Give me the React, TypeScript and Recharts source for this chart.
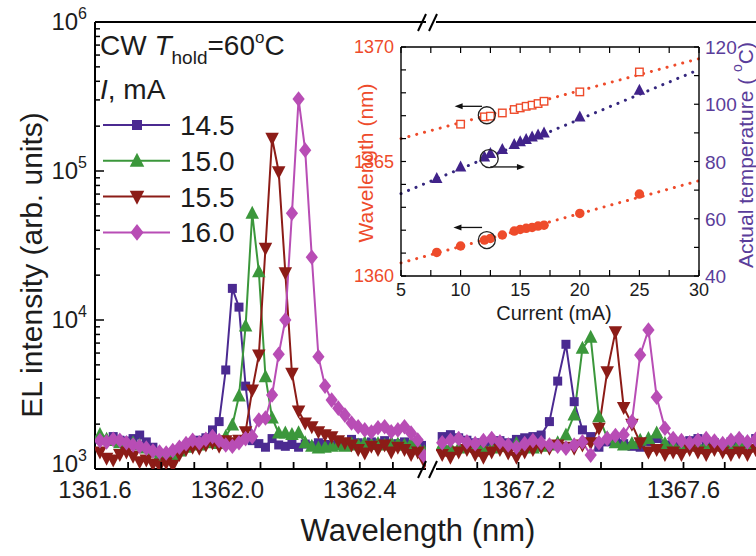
import React from 'react';
import {
  LineChart, Line, XAxis, YAxis, Legend, ComposedChart, Scatter, ReferenceLine, ReferenceDot,
} from 'recharts';

const FONT = '"Liberation Sans", Arial, Helvetica, sans-serif';
const INK = '#1c1c1c';

// ---------- main spectra: wavelength grids (nm) ----------
const wlLeft = [
  1361.615, 1361.635, 1361.655, 1361.675, 1361.695, 1361.715, 1361.735, 1361.755, 1361.775, 1361.795,
  1361.815, 1361.835, 1361.855, 1361.875, 1361.895, 1361.915, 1361.935, 1361.955, 1361.975, 1361.995,
  1362.015, 1362.035, 1362.055, 1362.075, 1362.095, 1362.115, 1362.135, 1362.155, 1362.175, 1362.195,
  1362.215, 1362.235, 1362.255, 1362.275, 1362.295, 1362.315, 1362.335, 1362.355, 1362.375, 1362.395,
  1362.415, 1362.435, 1362.455, 1362.475, 1362.495, 1362.515, 1362.535, 1362.555, 1362.575, 1362.595,
];
const wlRight = [
  1367.015, 1367.035, 1367.055, 1367.075, 1367.095, 1367.115, 1367.135, 1367.155, 1367.175, 1367.195,
  1367.215, 1367.235, 1367.255, 1367.275, 1367.295, 1367.315, 1367.335, 1367.355, 1367.375, 1367.395,
  1367.415, 1367.435, 1367.455, 1367.475, 1367.495, 1367.515, 1367.535, 1367.555, 1367.575, 1367.595,
  1367.615, 1367.635, 1367.655, 1367.675, 1367.695, 1367.715, 1367.735, 1367.755, 1367.775,
];

// EL intensity (arb. units), left segment
const i145L = [1580, 1550, 1650, 1560, 1540, 1600, 1690, 1520, 1400, 1270, 1200, 1260, 1330, 1400, 1500, 1560, 1620, 1830, 2080, 4620,
  16300, 12200, 3600, 1550, 1480, 1400, 1600, 1450, 1420, 1460, 1400, 1470, 1430, 1500, 1460, 1450, 1520, 1480, 1580, 1500,
  1460, 1520, 1490, 1550, 1460, 1480, 1520, 1460, 1500, 1440];
const i150L = [1700, 1580, 1550, 1500, 1480, 1500, 1450, 1380, 1300, 1230, 1180, 1250, 1320, 1400, 1480, 1450, 1500, 1520, 1480, 1650,
  1970, 3090, 9100, 52000, 21100, 4160, 2200, 1740, 1740, 1700, 1750, 1500, 1420, 1380, 1400, 1420, 1450, 1420, 1480, 1450,
  1500, 1460, 1480, 1450, 1500, 1470, 1440, 1480, 1420, 1300];
const i155L = [1300, 1180, 1150, 1250, 1300, 1220, 1120, 1150, 1080, 1050, 1100, 1060, 1250, 1350, 1400, 1380, 1450, 1500, 1420, 1550,
  1500, 1560, 1780, 3390, 5820, 30300, 165800, 98900, 20800, 4390, 2450, 2035, 1920, 1780, 1700, 1650, 1550, 1500, 1450, 1350,
  1280, 1420, 1350, 1450, 1300, 1400, 1350, 1250, 1300, 1120];
const i160L = [1550, 1520, 1580, 1560, 1500, 1450, 1420, 1380, 1320, 1300, 1280, 1330, 1400, 1480, 1560, 1500, 1580, 1650, 1550, 1450,
  1420, 1500, 1600, 1650, 2130, 2200, 3140, 5890, 10000, 52000, 304000, 138000, 26400, 5670, 3600, 2900, 2560, 2300, 2035, 1920,
  1830, 1770, 1890, 1920, 1780, 1830, 1920, 1740, 1565, 1220];

// EL intensity (arb. units), right segment
const i145R = [1650, 1700, 1620, 1560, 1500, 1480, 1520, 1550, 1500, 1580, 1620, 1650, 1690, 2080, 3890, 6870, 2830, 1830, 1650, 1400,
  1520, 1600, 1480, 1420, 1400, 1520, 1600, 1450, 1480, 1420, 1550, 1600, 1480, 1500, 1450, 1520, 1560, 1480, 1600];
const i150R = [1450, 1400, 1380, 1420, 1450, 1400, 1380, 1420, 1450, 1480, 1400, 1380, 1420, 1450, 1500, 1690, 2300, 6460, 7650, 2245,
  1620, 1500, 1450, 1480, 1560, 1600, 1740, 1480, 1450, 1420, 1480, 1450, 1430, 1500, 1450, 1420, 1480, 1450, 1420];
const i155R = [1250, 1200, 1300, 1350, 1250, 1200, 1300, 1350, 1280, 1200, 1300, 1350, 1400, 1380, 1450, 1400, 1380, 1450, 1500, 1880,
  4500, 8350, 2590, 2000, 1500, 1300, 1350, 1250, 1300, 1250, 1350, 1300, 1250, 1350, 1300, 1250, 1300, 1250, 1350];
const i160R = [1500, 1560, 1600, 1520, 1480, 1550, 1600, 1520, 1450, 1400, 1480, 1550, 1500, 1450, 1420, 1380, 1450, 1520, 1240, 1500,
  1600, 1680, 1700, 2080, 5820, 8570, 3030, 1875, 1600, 1550, 1500, 1560, 1600, 1540, 1480, 1560, 1600, 1520, 1580];

const leftTicks = [1361.6, 1361.7, 1361.8, 1361.9, 1362.0, 1362.1, 1362.2, 1362.3, 1362.4, 1362.5];
const leftLabels = [1361.6, 1362.0, 1362.4];
const rightTicks = [1367.1, 1367.2, 1367.3, 1367.4, 1367.5, 1367.6, 1367.7];
const rightLabels = [1367.2, 1367.6];
const yTicks = [
  1000, 2000, 3000, 4000, 5000, 6000, 7000, 8000, 9000,
  10000, 20000, 30000, 40000, 50000, 60000, 70000, 80000, 90000,
  100000, 200000, 300000, 400000, 500000, 600000, 700000, 800000, 900000, 1000000,
];

// ---------- inset ----------
const curSq = [10, 12, 12.5, 13.5, 14.5, 15, 15.5, 16, 16.5, 17, 20, 25];
const wlSq = [1366.63, 1366.95, 1366.98, 1367.12, 1367.27, 1367.34, 1367.41, 1367.46, 1367.53, 1367.63, 1368.04, 1368.91];
const curCirc = [8, 10, 12, 12.5, 13.5, 14.5, 15, 15.5, 16, 16.5, 17, 20, 25];
const wlCirc = [1361.03, 1361.31, 1361.57, 1361.64, 1361.79, 1361.96, 1362.03, 1362.08, 1362.12, 1362.18, 1362.22, 1362.73, 1363.58];
const curTri = [8, 10, 12, 12.5, 13.5, 14.5, 15, 15.5, 16, 16.5, 17, 20, 25];
const tempTri = [74.1, 78.1, 81.6, 82.8, 84.2, 86.0, 86.9, 87.7, 88.6, 89.3, 90.0, 95.6, 104.9];
const fitX = [5, 30];
const fitSq = [1366.0, 1369.49];
const fitTri = [68.8, 112.1];
const fitCirc = [1360.57, 1364.16];
const insetXTicks = [5, 7.5, 10, 12.5, 15, 17.5, 20, 22.5, 25, 27.5, 30];
const insetXLabels = [5, 10, 15, 20, 25, 30];
const insetWlTicks = [1360, 1361, 1362, 1363, 1364, 1365, 1366, 1367, 1368, 1369, 1370];
const insetWlLabels = [1360, 1365, 1370];
const insetTTicks = [40, 50, 60, 70, 80, 90, 100, 110, 120];
const insetTLabels = [40, 60, 80, 100, 120];

const C145 = '#4b2a91';
const C150 = '#3b973b';
const C155 = '#8c1c17';
const C160 = '#b84db5';
const RED = '#ee4b2b';
const PURPLE = '#41238a';
const PURPLE_T = '#5a3d9a';

const SERIES = [
  { key: 's145', name: '14.5', color: C145, shape: 'square' },
  { key: 's150', name: '15.0', color: C150, shape: 'up' },
  { key: 's155', name: '15.5', color: C155, shape: 'down' },
  { key: 's160', name: '16.0', color: C160, shape: 'diamond' },
];

const leftTable = wlLeft.map((wl, i) => ({ wl, s145: i145L[i], s150: i150L[i], s155: i155L[i], s160: i160L[i] }));
const rightTable = wlRight.map((wl, i) => ({ wl, s145: i145R[i], s150: i150R[i], s155: i155R[i], s160: i160R[i] }));
const sqData = curSq.map((x, i) => ({ x, y: wlSq[i] }));
const circData = curCirc.map((x, i) => ({ x, y: wlCirc[i] }));
const triData = curTri.map((x, i) => ({ x, y: tempTri[i] }));

function Marker({ shape, cx, cy, color, s, open }: any) {
  const fill = open ? '#fff' : color;
  const stroke = open ? color : 'none';
  switch (shape) {
    case 'square':
      return <rect x={cx - s / 2} y={cy - s / 2} width={s} height={s} fill={fill} stroke={stroke} strokeWidth={1.4} />;
    case 'up':
      return <polygon points={`${cx},${cy - 0.58 * s} ${cx + 0.52 * s},${cy + 0.42 * s} ${cx - 0.52 * s},${cy + 0.42 * s}`} fill={fill} />;
    case 'down':
      return <polygon points={`${cx},${cy + 0.58 * s} ${cx + 0.52 * s},${cy - 0.42 * s} ${cx - 0.52 * s},${cy - 0.42 * s}`} fill={fill} />;
    case 'diamond':
      return <polygon points={`${cx},${cy - 0.6 * s} ${cx + 0.47 * s},${cy} ${cx},${cy + 0.6 * s} ${cx - 0.47 * s},${cy}`} fill={fill} />;
    default:
      return <circle cx={cx} cy={cy} r={s / 2} fill={fill} />;
  }
}

const makeDot = (shape: string, color: string, s: number) => (p: any) => {
  const { cx, cy, index } = p;
  if (cx == null || cy == null || Number.isNaN(cx) || Number.isNaN(cy)) return <g key={`n${index}`} />;
  return <Marker key={`m${index}`} shape={shape} cx={cx} cy={cy} color={color} s={s} />;
};

const near = (arr: number[], v: number) => arr.some((a) => Math.abs(a - v) < 1e-6);

function XTickMain(props: any) {
  const { x, y, payload, labeled } = props;
  const v = payload.value;
  return (
    <g>
      <line x1={x} x2={x} y1={y} y2={y - 7} stroke="#000" strokeWidth={1.8} />
      {near(labeled, v) && (
        <text x={x} y={y + 29} textAnchor="middle" fontSize={24} fill={INK} fontFamily={FONT}>{v.toFixed(1)}</text>
      )}
    </g>
  );
}

function YTickMain(props: any) {
  const { x, y, payload } = props;
  const v = payload.value;
  const lg = Math.log10(v);
  const e = Math.round(lg);
  const major = Math.abs(lg - e) < 1e-6;
  const dy = e === 3 ? 3 : 8;
  return (
    <g>
      <line x1={x} x2={x + (major ? 9 : 5)} y1={y} y2={y} stroke="#000" strokeWidth={1.5} />
      {major && (
        <text x={x - 8} y={y + dy} textAnchor="end" fontSize={24} fill={INK} fontFamily={FONT}>
          10<tspan dy={-11} fontSize={16}>{e}</tspan>
        </text>
      )}
    </g>
  );
}

function InsetBottomTick(props: any) {
  const { x, y, payload } = props;
  const v = payload.value;
  return (
    <g>
      <line x1={x} x2={x} y1={y} y2={y - 6} stroke="#000" strokeWidth={1.2} />
      {near(insetXLabels, v) && (
        <text x={x} y={y + 20} textAnchor="middle" fontSize={18} fill={INK} fontFamily={FONT}>{v}</text>
      )}
    </g>
  );
}

function InsetTopTick(props: any) {
  const { x, y } = props;
  return <line x1={x} x2={x} y1={y} y2={y + 6} stroke="#000" strokeWidth={1.2} />;
}

function InsetLeftTick(props: any) {
  const { x, y, payload } = props;
  const v = payload.value;
  return (
    <g>
      <line x1={x} x2={x + 5} y1={y} y2={y} stroke="#000" strokeWidth={1.2} />
      {near(insetWlLabels, v) && (
        <text x={x - 7} y={y + 6} textAnchor="end" fontSize={18} fill={RED} fontFamily={FONT}>{v}</text>
      )}
    </g>
  );
}

function InsetRightTick(props: any) {
  const { x, y, payload } = props;
  const v = payload.value;
  return (
    <g>
      <line x1={x} x2={x - 5} y1={y} y2={y} stroke="#000" strokeWidth={1.2} />
      {near(insetTLabels, v) && (
        <text x={x + 6} y={y + 7} textAnchor="start" fontSize={19} fill={PURPLE_T} fontFamily={FONT}>{v}</text>
      )}
    </g>
  );
}

function Arrow(p: any) {
  const { x1, y1, x2, y2 } = p;
  if ([x1, y1, x2, y2].some((v) => v == null || Number.isNaN(v))) return <g />;
  const dir = x2 > x1 ? 1 : -1;
  return (
    <g>
      <line x1={x1} y1={y1} x2={x2 - dir * 6} y2={y2} stroke="#111" strokeWidth={1.3} />
      <polygon points={`${x2},${y2} ${x2 - dir * 8},${y2 - 3} ${x2 - dir * 8},${y2 + 3}`} fill="#111" />
    </g>
  );
}

function MainLegend(props: any) {
  const { payload = [] } = props;
  return (
    <svg width={260} height={240} style={{ overflow: 'visible', display: 'block' }}>
      <text x={2} y={33} fontSize={28} fill={INK} fontFamily={FONT}>
        CW <tspan fontStyle="italic">T</tspan>
        <tspan fontSize={19} dy={9}>hold</tspan>
        <tspan dy={-9}>=60</tspan>
        <tspan fontSize={17} dy={-12}>o</tspan>
        <tspan dy={12}>C</tspan>
      </text>
      <text x={2} y={77} fontSize={28} fill={INK} fontFamily={FONT}>
        <tspan fontStyle="italic">I</tspan>, mA
      </text>
      {payload.map((entry: any, i: number) => {
        const s = SERIES.find((q) => q.key === entry.dataKey) || SERIES[i];
        const cy = 103 + i * 35.8;
        return (
          <g key={s.key}>
            <line x1={5} x2={72} y1={cy} y2={cy} stroke={s.color} strokeWidth={2} />
            <Marker shape={s.shape} cx={39} cy={cy} color={s.color} s={s.shape === 'square' ? 10 : 14} />
            <text x={82} y={cy + 10} fontSize={28} fill={INK} fontFamily={FONT}>{entry.value}</text>
          </g>
        );
      })}
    </svg>
  );
}

const mainYLabel = () => (
  <text x={0} y={0} transform="translate(31,265) rotate(-90)" textAnchor="middle" dominantBaseline="central"
    fontSize={30} fill={INK} fontFamily={FONT}>EL intensity (arb. units)</text>
);

const insetWlLabel = () => (
  <text x={0} y={0} transform="translate(35,143) rotate(-90)" textAnchor="middle" dominantBaseline="central"
    fontSize={21} fill={RED} fontFamily={FONT}>Wavelength (nm)</text>
);

const insetTLabel = () => (
  <text x={0} y={0} transform="translate(415,135) rotate(-90)" textAnchor="middle" dominantBaseline="central"
    fontSize={21} fill={PURPLE_T} fontFamily={FONT}>
    Actual temperature ( <tspan fontSize={14} dy={-8}>o</tspan><tspan dy={8}>C)</tspan>
  </text>
);

const insetXLabel = () => (
  <text x={224} y={300} textAnchor="middle" fontSize={20} fill={INK} fontFamily={FONT}>Current (mA)</text>
);

const axisLine = { stroke: '#000', strokeWidth: 2 };

function Spectra({ data, ticks, labeled, domain, width, withY, withLegend }: any) {
  return (
    <LineChart width={width} height={556} data={data} margin={{ top: 21, right: 0, bottom: 27, left: 0 }}>
      <XAxis dataKey="wl" type="number" domain={domain} allowDataOverflow ticks={ticks} interval={0}
        tick={<XTickMain labeled={labeled} />} tickLine={false} tickSize={0} tickMargin={0} height={60} axisLine={axisLine} />
      <XAxis xAxisId="top" orientation="top" dataKey="wl" type="number" domain={domain} allowDataOverflow
        tick={false} tickLine={false} height={1} axisLine={axisLine} />
      {withY ? (
        <YAxis type="number" scale="log" domain={[1000, 1000000]} allowDataOverflow ticks={yTicks} interval={0}
          tick={<YTickMain />} tickLine={false} tickSize={0} tickMargin={0} width={95} axisLine={axisLine}
          label={mainYLabel} />
      ) : (
        <YAxis type="number" scale="log" domain={[1000, 1000000]} allowDataOverflow hide width={0} />
      )}
      {withLegend && (
        <Legend layout="vertical" align="center" verticalAlign="middle" content={<MainLegend />}
          wrapperStyle={{ left: 98, top: 22, width: 260, height: 240 }} />
      )}
      {SERIES.map((s) => (
        <Line key={s.key} dataKey={s.key} name={s.name} stroke={s.color} strokeWidth={2}
          dot={makeDot(s.shape, s.color, s.shape === 'square' ? 9 : 13)} activeDot={false}
          isAnimationActive={false} />
      ))}
    </LineChart>
  );
}

function Inset() {
  return (
    <ComposedChart width={426} height={310} margin={{ top: 26, right: 0, bottom: 14, left: 0 }}>
      <XAxis xAxisId="b" dataKey="x" type="number" domain={[5, 30]} allowDataOverflow ticks={insetXTicks} interval={0}
        tick={<InsetBottomTick />} tickLine={false} tickSize={0} tickMargin={0} height={40}
        axisLine={{ stroke: '#000', strokeWidth: 1.4 }} label={insetXLabel} />
      <XAxis xAxisId="t" orientation="top" dataKey="x" type="number" domain={[5, 30]} allowDataOverflow ticks={insetXTicks}
        interval={0} tick={<InsetTopTick />} tickLine={false} tickSize={0} tickMargin={0} height={1}
        axisLine={{ stroke: '#000', strokeWidth: 1.4 }} />
      <YAxis yAxisId="wl" dataKey="y" type="number" domain={[1360, 1370]} allowDataOverflow ticks={insetWlTicks}
        interval={0} tick={<InsetLeftTick />} tickLine={false} tickSize={0} tickMargin={0} width={71}
        axisLine={{ stroke: '#000', strokeWidth: 1.4 }} label={insetWlLabel} />
      <YAxis yAxisId="T" orientation="right" dataKey="y" type="number" domain={[40, 120]} allowDataOverflow
        ticks={insetTTicks} interval={0} tick={<InsetRightTick />} tickLine={false} tickSize={0} tickMargin={0}
        width={57} axisLine={{ stroke: '#000', strokeWidth: 1.4 }} label={insetTLabel} />

      <ReferenceLine xAxisId="b" yAxisId="wl" segment={[{ x: fitX[0], y: fitSq[0] }, { x: fitX[1], y: fitSq[1] }]}
        stroke={RED} strokeWidth={3} strokeDasharray="0.1 8" strokeLinecap="round" ifOverflow="visible" />
      <ReferenceLine xAxisId="b" yAxisId="T" segment={[{ x: fitX[0], y: fitTri[0] }, { x: fitX[1], y: fitTri[1] }]}
        stroke="#35277e" strokeWidth={3} strokeDasharray="0.1 8" strokeLinecap="round" ifOverflow="visible" />
      <ReferenceLine xAxisId="b" yAxisId="wl" segment={[{ x: fitX[0], y: fitCirc[0] }, { x: fitX[1], y: fitCirc[1] }]}
        stroke={RED} strokeWidth={3} strokeDasharray="0.1 8" strokeLinecap="round" ifOverflow="visible" />

      <Scatter xAxisId="b" yAxisId="wl" data={sqData} isAnimationActive={false}
        shape={(p: any) => <Marker shape="square" cx={p.cx} cy={p.cy} color={RED} s={7.5} open />} />
      <Scatter xAxisId="b" yAxisId="T" data={triData} isAnimationActive={false}
        shape={(p: any) => <Marker shape="up" cx={p.cx} cy={p.cy} color={PURPLE} s={11} />} />
      <Scatter xAxisId="b" yAxisId="wl" data={circData} isAnimationActive={false}
        shape={(p: any) => <Marker shape="circle" cx={p.cx} cy={p.cy} color={RED} s={9.5} />} />

      <ReferenceDot xAxisId="b" yAxisId="wl" x={12.2} y={1367.02} r={8.5} fill="none" stroke="#222" strokeWidth={1.3} />
      <ReferenceDot xAxisId="b" yAxisId="T" x={12.4} y={81.0} r={9} fill="none" stroke="#222" strokeWidth={1.3} />
      <ReferenceDot xAxisId="b" yAxisId="wl" x={12.2} y={1361.57} r={8.5} fill="none" stroke="#222" strokeWidth={1.3} />
      <ReferenceLine xAxisId="b" yAxisId="wl" segment={[{ x: 11.8, y: 1367.41 }, { x: 9.5, y: 1367.41 }]}
        ifOverflow="visible" shape={(p: any) => <Arrow {...p} />} />
      <ReferenceLine xAxisId="b" yAxisId="T" segment={[{ x: 12.5, y: 78.1 }, { x: 15.4, y: 78.1 }]}
        ifOverflow="visible" shape={(p: any) => <Arrow {...p} />} />
      <ReferenceLine xAxisId="b" yAxisId="wl" segment={[{ x: 11.8, y: 1362.12 }, { x: 9.4, y: 1362.12 }]}
        ifOverflow="visible" shape={(p: any) => <Arrow {...p} />} />
    </ComposedChart>
  );
}

export default function App() {
  return (
    <div style={{ position: 'absolute', left: 0, top: 0, width: 756, height: 556, overflow: 'hidden', background: '#fff', fontFamily: FONT }}>
      <div style={{ position: 'absolute', left: 0, top: 0 }}>
        <Spectra data={leftTable} ticks={leftTicks} labeled={leftLabels} domain={[1361.6, 1362.6]} width={426} withY withLegend />
      </div>
      <div style={{ position: 'absolute', left: 436, top: 0 }}>
        <Spectra data={rightTable} ticks={rightTicks} labeled={rightLabels} domain={[1367.0, 1367.8]} width={330} />
      </div>
      <div style={{ position: 'absolute', left: 330, top: 20 }}>
        <Inset />
      </div>
      <svg width={756} height={556} style={{ position: 'absolute', left: 0, top: 0, pointerEvents: 'none' }}>
        <g stroke="#000" strokeWidth={2}>
          <line x1={418} y1={31} x2={426} y2={14} />
          <line x1={429} y1={31} x2={437} y2={14} />
          <line x1={418} y1={478} x2={426} y2={461} />
          <line x1={429} y1={478} x2={437} y2={461} />
        </g>
        <text x={418} y={541} textAnchor="middle" fontSize={31} fill={INK} fontFamily={FONT}>Wavelength (nm)</text>
      </svg>
    </div>
  );
}
